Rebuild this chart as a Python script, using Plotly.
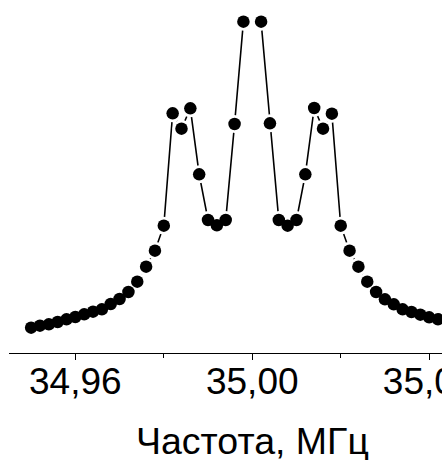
import plotly.graph_objects as go

# Frequency (MHz) and intensity (arbitrary units)
freq = [34.950, 34.952, 34.954, 34.956, 34.958, 34.960, 34.962, 34.964, 34.966, 34.968,
        34.970, 34.972, 34.974, 34.976, 34.978, 34.980, 34.982, 34.984, 34.986, 34.988,
        34.990, 34.992, 34.994, 34.996, 34.998, 35.000, 35.002, 35.004, 35.006, 35.008,
        35.010, 35.012, 35.014, 35.016, 35.018, 35.020, 35.022, 35.024, 35.026, 35.028,
        35.030, 35.032, 35.034, 35.036, 35.038, 35.040, 35.042]
intensity = [25.3, 27.3, 28.7, 31.0, 33.7, 36.0, 38.7, 41.3, 43.7, 49.0,
             54.0, 61.0, 71.3, 86.3, 102.3, 127.3, 239.7, 224.3, 244.7, 178.7,
             133.0, 127.7, 133.0, 229.0, 331.3, None, 331.3, 229.7, 133.0, 127.3,
             133.0, 178.7, 245.0, 224.3, 239.3, 127.3, 102.3, 86.3, 71.3, 61.0,
             53.7, 48.7, 43.7, 41.0, 38.3, 35.7, 33.7]

tick_vals = [34.96, 35.00, 35.04]
tick_text = ["34,96", "35,00", "35,04"]
minor_vals = [34.98, 35.02]
x_title = "Частота, МГц"

fig = go.Figure()
fig.add_trace(go.Scatter(x=freq, y=intensity, mode="lines",
                         line=dict(color="black", width=1.6),
                         connectgaps=False, hoverinfo="skip"))
fig.add_trace(go.Scatter(x=freq, y=intensity, mode="markers",
                         marker=dict(color="white", size=18, line=dict(width=0)),
                         hoverinfo="skip"))
fig.add_trace(go.Scatter(x=freq, y=intensity, mode="markers",
                         marker=dict(color="black", size=12.5, line=dict(width=0))))

fig.update_layout(
    width=442, height=460,
    margin=dict(l=9, r=0, t=0, b=107, autoexpand=False),
    paper_bgcolor="white", plot_bgcolor="white",
    showlegend=False,
    font=dict(family="Liberation Sans, Arial, sans-serif", color="black"),
    xaxis=dict(
        range=[34.9450, 35.0429],
        automargin=False,
        showgrid=False, zeroline=False,
        showline=True, linecolor="black", linewidth=1.3,
        ticks="outside", ticklen=6, tickwidth=1.3, tickcolor="black",
        tickvals=tick_vals, ticktext=tick_text,
        tickfont=dict(size=37, color="black"),
        ticklabeloverflow="allow",
        ticklabelstandoff=-11,
        minor=dict(tickvals=minor_vals, ticks="outside", ticklen=4,
                   tickwidth=1.3, tickcolor="black"),
    ),
    yaxis=dict(range=[0, 353], visible=False, showgrid=False, zeroline=False),
    annotations=[dict(text=x_title, x=35.0, xref="x", y=-0.249, yref="paper",
                      xanchor="center", yanchor="middle", showarrow=False,
                      font=dict(size=37.5, color="black"))],
)

fig.write_html("out.html")
